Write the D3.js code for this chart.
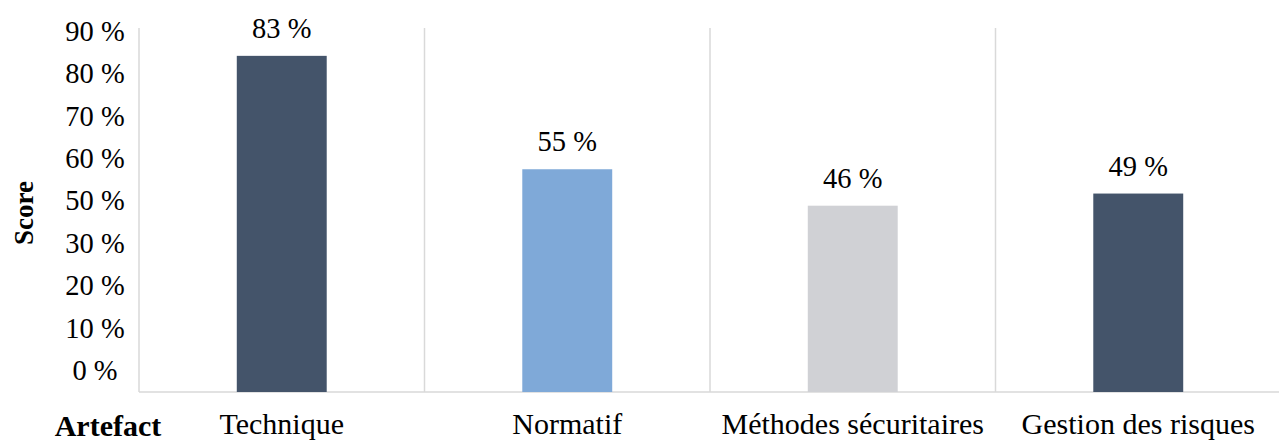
<!DOCTYPE html>
<html>
<head>
<meta charset="utf-8">
<script src="https://cdn.jsdelivr.net/npm/d3@7/dist/d3.min.js"></script>
<style>
  html, body { margin: 0; padding: 0; background: #ffffff; }
  svg { display: block; }
  text { font-family: "Liberation Serif", "Times New Roman", serif; fill: #000; }
</style>
</head>
<body>
<svg id="chart" width="1279" height="441"></svg>
<script>
// Scores per artefact category
const categories = ["Technique", "Normatif", "Méthodes sécuritaires", "Gestion des risques"];
const scores = [83, 55, 46, 49];
const valueLabels = ["83 %", "55 %", "46 %", "49 %"];
const barColors = ["#44546A", "#7FA9D8", "#D0D1D5", "#44546A"];
// Labels printed along the score axis
const tickLabels = ["90 %", "80 %", "70 %", "60 %", "50 %", "30 %", "20 %", "10 %", "0 %"];

const svg = d3.select("#chart");
const plotLeft = 139, plotRight = 1281, plotTop = 28, plotBottom = 392;
const gridColor = "#D9D9D9";

const x = d3.scaleBand()
  .domain(categories)
  .range([plotLeft, plotRight])
  .paddingInner(0.685)
  .paddingOuter(0.3425);

const y = d3.scaleLinear()
  .domain([0, 90])
  .range([plotBottom, 27.5]);

const tickPos = d3.scalePoint()
  .domain(tickLabels)
  .range([40.7, 380]);

// category separators and left frame
const seps = d3.range(categories.length).map(i => plotLeft + i * x.step());
svg.append("g").selectAll("line").data(seps).join("line")
  .attr("x1", d => d).attr("x2", d => d)
  .attr("y1", plotTop).attr("y2", plotBottom)
  .attr("stroke", gridColor).attr("stroke-width", 1.5);

// baseline
svg.append("line")
  .attr("x1", plotLeft).attr("x2", 1279)
  .attr("y1", plotBottom).attr("y2", plotBottom)
  .attr("stroke", gridColor).attr("stroke-width", 1.5);

// bars
svg.append("g").selectAll("rect").data(categories).join("rect")
  .attr("x", d => x(d))
  .attr("width", x.bandwidth())
  .attr("y", (d, i) => y(scores[i]))
  .attr("height", (d, i) => y(0) - y(scores[i]))
  .attr("fill", (d, i) => barColors[i]);

// value labels
svg.append("g").selectAll("text").data(categories).join("text")
  .attr("x", d => x(d) + x.bandwidth() / 2)
  .attr("y", (d, i) => y(scores[i]) - 18)
  .attr("text-anchor", "middle")
  .style("font-size", "28.5px")
  .text((d, i) => valueLabels[i]);

// score axis labels
svg.append("g").selectAll("text").data(tickLabels).join("text")
  .attr("x", 95)
  .attr("y", d => tickPos(d))
  .attr("text-anchor", "middle")
  .style("font-size", "28.5px")
  .text(d => d);

// category labels
svg.append("g").selectAll("text").data(categories).join("text")
  .attr("x", d => x(d) + x.bandwidth() / 2)
  .attr("y", 434)
  .attr("text-anchor", "middle")
  .style("font-size", "30px")
  .text(d => d);

// axis titles
svg.append("text")
  .attr("transform", "translate(24,213) rotate(-90)")
  .attr("text-anchor", "middle")
  .attr("dominant-baseline", "central")
  .style("font-size", "27px")
  .style("font-weight", "bold")
  .text("Score");

svg.append("text")
  .attr("x", 108)
  .attr("y", 436)
  .attr("text-anchor", "middle")
  .style("font-size", "30px")
  .style("font-weight", "bold")
  .text("Artefact");
</script>
</body>
</html>
